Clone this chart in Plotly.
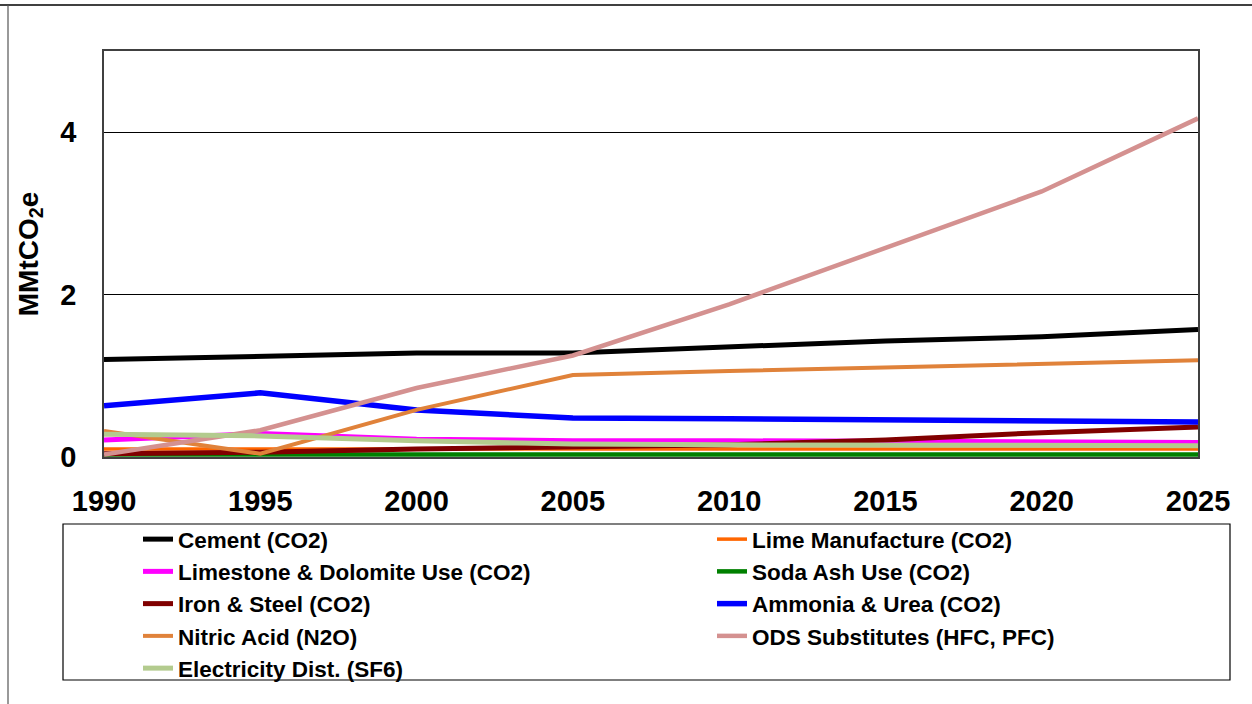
import plotly.graph_objects as go

years = [1990, 1995, 2000, 2005, 2010, 2015, 2020, 2025]

cement = [1.20, 1.24, 1.28, 1.28, 1.35, 1.43, 1.48, 1.57]
lime = [0.10, 0.10, 0.09, 0.09, 0.09, 0.10, 0.10, 0.10]
limestone = [0.21, 0.29, 0.22, 0.20, 0.20, 0.19, 0.19, 0.18]
soda_ash = [0.03, 0.03, 0.03, 0.03, 0.03, 0.03, 0.03, 0.03]
iron_steel = [0.04, 0.06, 0.10, 0.12, 0.15, 0.21, 0.30, 0.37]
ammonia = [0.63, 0.79, 0.58, 0.48, 0.47, 0.46, 0.45, 0.43]
nitric = [0.32, 0.04, 0.58, 1.01, 1.06, 1.10, 1.15, 1.19]
ods = [0.03, 0.33, 0.85, 1.25, 1.88, 2.58, 3.27, 4.17]
electricity = [0.28, 0.26, 0.20, 0.16, 0.15, 0.15, 0.14, 0.14]

x_ticks = [1990, 1995, 2000, 2005, 2010, 2015, 2020, 2025]
y_ticks = [0, 2, 4]

series = [
    ("Cement (CO2)", cement, "#000000", 5, "legend"),
    ("Lime Manufacture (CO2)", lime, "#FF6600", 3.5, "legend2"),
    ("Limestone & Dolomite Use (CO2)", limestone, "#FF00FF", 5, "legend"),
    ("Soda Ash Use (CO2)", soda_ash, "#008000", 4.5, "legend2"),
    ("Iron & Steel (CO2)", iron_steel, "#800000", 5, "legend"),
    ("Ammonia & Urea (CO2)", ammonia, "#0000FF", 5.5, "legend2"),
    ("Nitric Acid (N2O)", nitric, "#E0823A", 4, "legend"),
    ("ODS Substitutes (HFC, PFC)", ods, "#D49190", 4.5, "legend2"),
    ("Electricity Dist. (SF6)", electricity, "#B3CB8E", 5, "legend"),
]

FONT = "Liberation Sans, Arial, sans-serif"

fig = go.Figure()
for name, vals, color, width, leg in series:
    fig.add_trace(go.Scatter(
        x=years, y=vals, name=name, mode="lines",
        line=dict(color=color, width=width),
        legend=leg,
    ))

L, R, T, B = 104, 54, 51, 247
W, H = 1252, 704
pw, ph = W - L - R, H - T - B

def px(x):
    return (x - L) / pw

def py(y):
    return (H - B - y) / ph

legend_font = dict(family=FONT, size=22.5, color="#000000", weight="bold")

fig.update_layout(
    width=W, height=H,
    margin=dict(l=L, r=R, t=T, b=B, autoexpand=False),
    paper_bgcolor="white", plot_bgcolor="white",
    xaxis=dict(
        range=[1990, 2025], tickvals=x_ticks, showgrid=False, zeroline=False,
        showline=True, mirror=True, linecolor="#404040", linewidth=1.5,
        ticks="", ticklabelstandoff=17,
        tickfont=dict(family=FONT, size=29, color="#000000", weight="bold"),
    ),
    yaxis=dict(
        range=[0, 5], tickvals=y_ticks, showgrid=True, gridcolor="#000000",
        gridwidth=1, zeroline=False,
        showline=True, mirror=True, linecolor="#404040", linewidth=1.5,
        ticks="", ticklabelstandoff=20,
        tickfont=dict(family=FONT, size=29, color="#000000", weight="bold"),
        title=dict(text="MMtCO<sub>2</sub>e", standoff=14,
                   font=dict(family=FONT, size=28, color="#000000", weight="bold")),
    ),
    showlegend=True,
    legend=dict(
        orientation="v", x=px(138), y=py(518), xanchor="left", yanchor="top",
        font=legend_font, bgcolor="rgba(0,0,0,0)", borderwidth=0,
    ),
    legend2=dict(
        orientation="v", x=px(712), y=py(518), xanchor="left", yanchor="top",
        font=legend_font, bgcolor="rgba(0,0,0,0)", borderwidth=0,
    ),
    shapes=[
        dict(type="rect", xref="paper", yref="paper",
             x0=px(63), x1=px(1230), y0=py(680), y1=py(524),
             line=dict(color="#000000", width=1.2), fillcolor="rgba(0,0,0,0)"),
        dict(type="line", xref="paper", yref="paper",
             x0=px(0), x1=px(W), y0=py(5), y1=py(5),
             line=dict(color="#000000", width=1.5)),
        dict(type="line", xref="paper", yref="paper",
             x0=px(8), x1=px(8), y0=py(5), y1=py(H),
             line=dict(color="#555555", width=1.2)),
    ],
)

fig.write_html(
    "out.html",
    config={"displayModeBar": False},
    post_script="document.body.style.margin='0px';document.body.style.overflow='hidden';",
)
